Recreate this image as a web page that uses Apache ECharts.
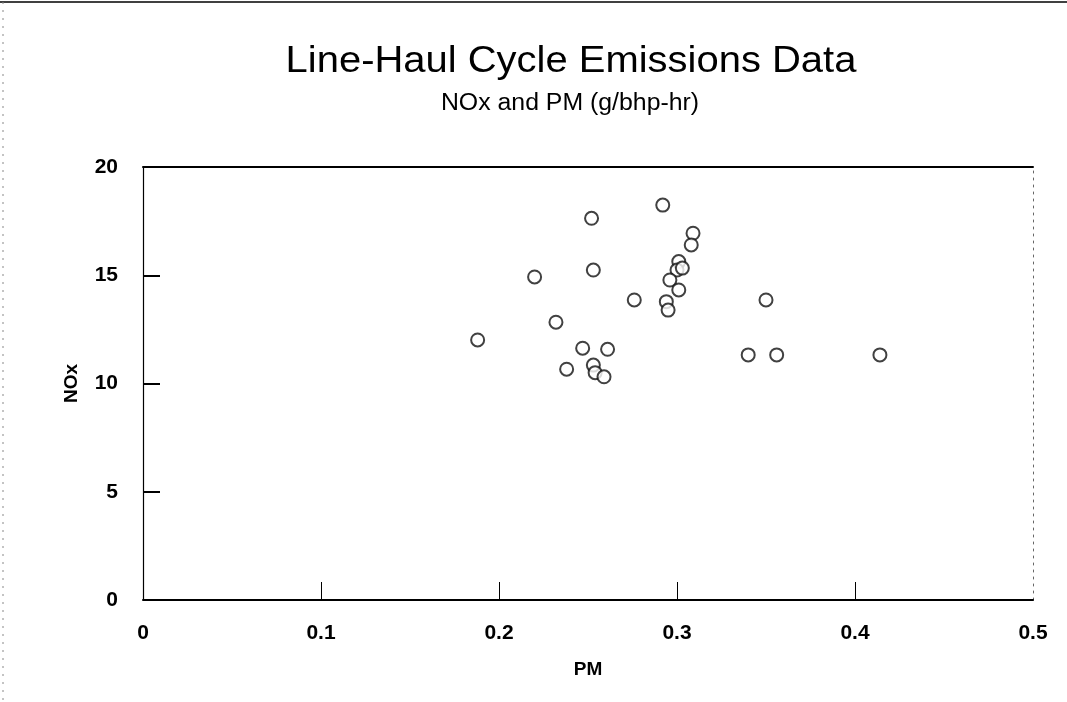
<!DOCTYPE html>
<html>
<head>
<meta charset="utf-8">
<script src="https://cdn.jsdelivr.net/npm/echarts@6/dist/echarts.min.js"></script>
<style>
html,body{margin:0;padding:0;background:#fff;}
#chart{width:1067px;height:702px;}
</style>
</head>
<body>
<div id="chart"></div>
<script>
// PM (g/bhp-hr) values
const pmValues = [0.252, 0.292, 0.309, 0.308, 0.253, 0.220, 0.301, 0.300, 0.303, 0.296, 0.301, 0.276, 0.294, 0.295, 0.350, 0.232, 0.188, 0.247, 0.261, 0.340, 0.356, 0.414, 0.238, 0.253, 0.254, 0.259];
// NOx (g/bhp-hr) values
const noxValues = [17.63, 18.24, 16.94, 16.40, 15.24, 14.92, 15.63, 15.24, 15.33, 14.78, 14.32, 13.86, 13.78, 13.39, 13.86, 12.83, 12.01, 11.63, 11.58, 11.32, 11.32, 11.32, 10.66, 10.85, 10.50, 10.31];
const xTicks = [0, 0.1, 0.2, 0.3, 0.4, 0.5];
const yTicks = [0, 5, 10, 15, 20];
const titleText = 'Line-Haul Cycle Emissions Data';
const subtitleText = 'NOx and PM (g/bhp-hr)';

const points = pmValues.map((v, i) => [v, noxValues[i]]);
const font = '"Liberation Sans", Arial, sans-serif';

const chart = echarts.init(document.getElementById('chart'), null, {renderer: 'canvas'});
chart.setOption({
  backgroundColor: '#fff',
  animation: false,
  grid: {left: 143, right: 34, top: 167, bottom: 102, show: false},
  xAxis: [{
    type: 'value', min: xTicks[0], max: xTicks[xTicks.length - 1], interval: 0.1,
    name: 'PM', nameLocation: 'middle', nameGap: 60,
    nameTextStyle: {fontFamily: font, fontSize: 19, fontWeight: 'bold', color: '#000'},
    axisLine: {show: true, onZero: false, lineStyle: {color: '#000', width: 2}},
    axisTick: {show: true, inside: true, length: 18, customValues: xTicks.slice(1, -1),
      lineStyle: {color: '#000', width: 1}},
    axisLabel: {margin: 23, fontFamily: font, fontSize: 21, fontWeight: 'bold', color: '#000',
      formatter: v => String(Math.round(v * 10) / 10)},
    splitLine: {show: false}
  }, {
    type: 'value', position: 'top', min: xTicks[0], max: xTicks[xTicks.length - 1],
    axisLine: {show: true, onZero: false, lineStyle: {color: '#000', width: 2}},
    axisTick: {show: false}, axisLabel: {show: false}, splitLine: {show: false}
  }],
  yAxis: [{
    type: 'value', min: yTicks[0], max: yTicks[yTicks.length - 1], interval: 5,
    name: 'NOx', nameLocation: 'middle', nameGap: 62, nameRotate: 90,
    nameTextStyle: {fontFamily: font, fontSize: 19, fontWeight: 'bold', color: '#000'},
    axisLine: {show: true, onZero: false, lineStyle: {color: '#000', width: 1.2}},
    axisTick: {show: true, inside: true, length: 17, customValues: yTicks.slice(1, -1),
      lineStyle: {color: '#000', width: 2}},
    axisLabel: {margin: 25, fontFamily: font, fontSize: 21, fontWeight: 'bold', color: '#000'},
    splitLine: {show: false}
  }, {
    type: 'value', position: 'right', min: yTicks[0], max: yTicks[yTicks.length - 1],
    axisLine: {show: true, onZero: false, lineStyle: {color: '#666', width: 1, type: [2, 5]}},
    axisTick: {show: false}, axisLabel: {show: false}, splitLine: {show: false}
  }],
  graphic: [
    {type: 'text', x: 571, y: 62, scaleX: 1.08, style: {text: titleText, fontFamily: font, fontSize: 37,
      fill: '#000', align: 'center', verticalAlign: 'middle'}},
    {type: 'text', x: 570, y: 104, scaleX: 1.08, style: {text: subtitleText, fontFamily: font, fontSize: 23,
      fill: '#000', align: 'center', verticalAlign: 'middle'}},
    {type: 'line', shape: {x1: 0, y1: 2, x2: 1067, y2: 2}, style: {stroke: '#000', lineWidth: 1.5}},
    {type: 'line', shape: {x1: 3, y1: 2, x2: 3, y2: 702}, style: {stroke: '#888', lineWidth: 1, lineDash: [2, 6]}}
  ],
  series: [{
    type: 'scatter',
    data: points,
    symbol: 'emptyCircle',
    symbolSize: 13,
    itemStyle: {color: '#111', borderColor: '#111', borderWidth: 1.1}
  }]
});
</script>
</body>
</html>
